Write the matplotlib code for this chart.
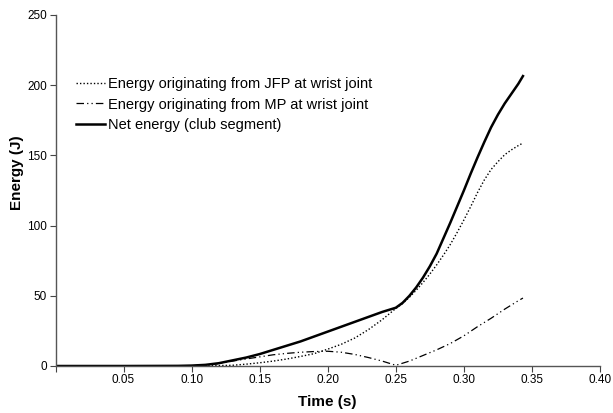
import matplotlib
matplotlib.use("Agg")
import matplotlib.pyplot as plt

plt.rcParams['font.family'] = ['Liberation Sans', 'DejaVu Sans']

# Time (s) / Energy (J)
t_net = [0, 0.05, 0.09, 0.10, 0.11, 0.12, 0.13, 0.14, 0.15, 0.16, 0.17, 0.18, 0.19,
         0.20, 0.21, 0.22, 0.23, 0.24, 0.25, 0.255, 0.26, 0.265, 0.27, 0.275, 0.28,
         0.285, 0.29, 0.295, 0.30, 0.305, 0.31, 0.315, 0.32, 0.325, 0.33, 0.335,
         0.34, 0.3434]
net = [0, 0, 0.1, 0.3, 0.8, 2, 4, 6, 8.5, 11.5, 14.5, 17.5, 21,
       24.5, 28, 31.5, 35, 38.5, 41.5, 45, 50, 56, 63, 71, 80,
       91, 102, 113.5, 125, 137, 148.5, 159.5, 170, 179, 187, 194,
       201, 206.5]

t_jfp = [0, 0.10, 0.12, 0.13, 0.14, 0.15, 0.16, 0.17, 0.18, 0.19, 0.20, 0.21,
         0.22, 0.23, 0.24, 0.25, 0.255, 0.26, 0.265, 0.27, 0.275, 0.28, 0.285,
         0.29, 0.295, 0.30, 0.305, 0.31, 0.315, 0.32, 0.325, 0.33, 0.335, 0.34,
         0.3434]
jfp = [0, 0, 0.3, 0.5, 1.3, 2.3, 3.5, 5, 6.8, 8.8, 12, 15.5,
       20, 26, 33, 41, 44.5, 49, 54, 59.5, 65.5, 72, 79,
       86.5, 95, 104, 113.5, 123.5, 132.5, 140, 145.5, 150.5, 154, 157,
       158.8]

t_mp = [0, 0.10, 0.11, 0.12, 0.13, 0.14, 0.15, 0.16, 0.17, 0.18, 0.19, 0.20,
        0.21, 0.22, 0.23, 0.24, 0.25, 0.26, 0.27, 0.28, 0.29, 0.30, 0.31, 0.32,
        0.33, 0.34, 0.3434]
mp = [0, 0.2, 0.7, 1.7, 3.5, 5, 6.5, 8, 9, 9.8, 10.3, 10.5,
      9.8, 8.2, 6, 3.5, 0.5, 3.5, 7.5, 11.5, 16, 21.5, 28, 34,
      40.5, 46.5, 48.4]

x_ticks = [0, 0.05, 0.10, 0.15, 0.20, 0.25, 0.30, 0.35, 0.40]
x_tick_labels = ["", "0.05", "0.10", "0.15", "0.20", "0.25", "0.30", "0.35", "0.40"]
y_ticks = [0, 50, 100, 150, 200, 250]

labels = ["Energy originating from JFP at wrist joint",
          "Energy originating from MP at wrist joint",
          "Net energy (club segment)"]

fig = plt.figure(figsize=(6.13, 4.13), dpi=100)
ax = fig.add_axes([55.5/613, 1-366/413, (600-55.5)/613, (366-15)/413])

ax.plot(t_jfp, jfp, color='black', lw=1.0, linestyle=(0, (1, 1.5)), label=labels[0])
ax.plot(t_mp, mp, color='black', lw=0.9, linestyle=(0, (6, 2.5, 1, 2.5, 1, 2.5)), label=labels[1])
ax.plot(t_net, net, color='black', lw=1.8, label=labels[2])

ax.set_xlim(0, 0.40)
ax.set_ylim(0, 250)
ax.set_xticks(x_ticks)
ax.set_xticklabels(x_tick_labels)
ax.set_yticks(y_ticks)
ax.tick_params(axis='both', labelsize=8.5, direction='out', length=4, width=0.8,
               color='#444444', pad=2)

for s in ['top', 'right']:
    ax.spines[s].set_visible(False)
for s in ['left', 'bottom']:
    ax.spines[s].set_color('#555555')
    ax.spines[s].set_linewidth(1.0)

ax.set_xlabel("Time (s)", fontsize=11, fontweight='bold', labelpad=6)
ax.set_ylabel("Energy (J)", fontsize=11, fontweight='bold')
ax.yaxis.set_label_coords(-32/544.5, 0.55)

leg = ax.legend(loc='upper left', bbox_to_anchor=(76/613, 1-77/413),
                bbox_transform=fig.transFigure, frameon=False, fontsize=10.5,
                handlelength=2.0, handletextpad=0.2, borderpad=0, borderaxespad=0,
                labelspacing=0.45)

fig.savefig("out.png", dpi=100)
